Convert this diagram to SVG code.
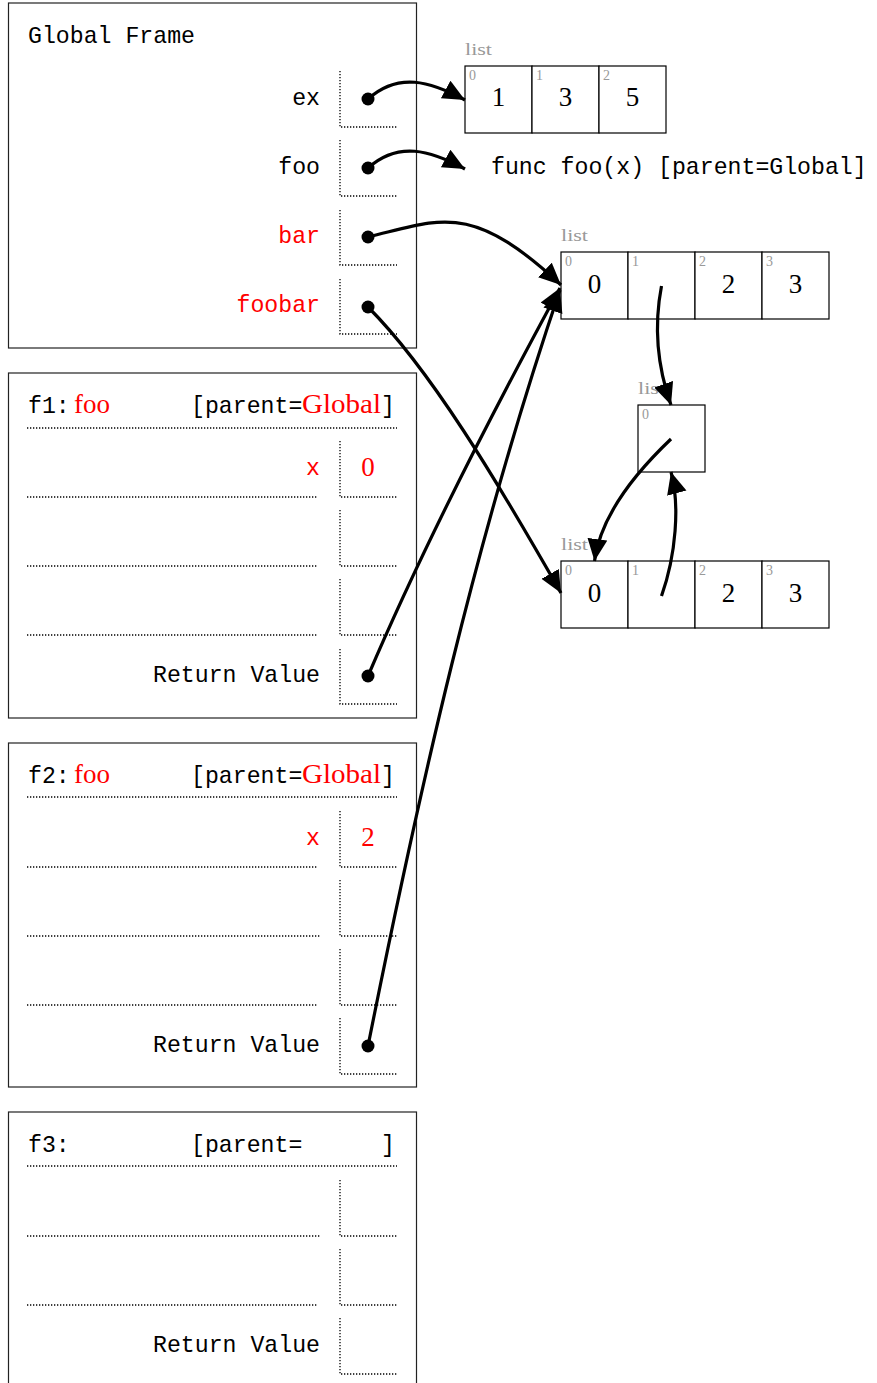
<svg xmlns="http://www.w3.org/2000/svg" width="877" height="1383" viewBox="0 0 877 1383">
  <style>
    .frame { fill: #fff; stroke: #222; stroke-width: 1.2; }
    .dot-line { stroke: #000; stroke-width: 1.3; stroke-dasharray: 1.3 1.7; fill: none; }
    .mono { font-family: "Liberation Mono", "DejaVu Sans Mono", monospace; font-size: 23.2px; fill: #000; }
    .serif { font-family: "Liberation Serif", "DejaVu Serif", serif; font-size: 27px; fill: #000; }
    .red { fill: #ff0000; }
    .end { text-anchor: end; }
    .mid { text-anchor: middle; }
    .cell { fill: #fff; stroke: #000; stroke-width: 1.2; }
    .idx { font-family: "Liberation Serif", "DejaVu Serif", serif; font-size: 14px; fill: #999; }
    .tag { font-family: "Liberation Serif", "DejaVu Serif", serif; font-size: 17px; fill: #999; }
    .ptr { fill: #000; }
    .edge { fill: none; stroke: #000; stroke-width: 3.2; marker-end: url(#head); }
  </style>
  <defs>
    <marker id="head" markerUnits="userSpaceOnUse" markerWidth="24" markerHeight="22" refX="22" refY="10" orient="auto">
      <path d="M0,0 L22,10 L0,20 z" fill="#000"/>
    </marker>
  </defs>

  <!-- Global frame -->
  <g id="global-frame">
    <rect class="frame" x="8.5" y="3" width="408" height="345"/>
    <text class="mono" x="28" y="43">Global Frame</text>
    <path class="dot-line" d="M340,71 V127 H397 M340,140 V196 H397 M340,210 V265 H397 M340,279 V334 H397"/>
    <text class="mono end" x="320" y="105">ex</text>
    <text class="mono end" x="320" y="174">foo</text>
    <text class="mono end red" x="320" y="243">bar</text>
    <text class="mono end red" x="320" y="312">foobar</text>
    <circle class="ptr" cx="368" cy="99" r="6.5"/>
    <circle class="ptr" cx="368" cy="168" r="6.5"/>
    <circle class="ptr" cx="368" cy="237" r="6.5"/>
    <circle class="ptr" cx="368" cy="307" r="6.5"/>
  </g>

  <!-- Frame f1 -->
  <g id="frame-f1">
    <rect class="frame" x="8.5" y="373" width="408" height="345"/>
    <text class="mono" x="28" y="413">f1:</text>
    <text class="serif red" x="74" y="413">foo</text>
    <text class="mono" x="191" y="413">[parent=</text>
    <text class="serif red" x="302" y="413" textLength="79" lengthAdjust="spacingAndGlyphs">Global</text>
    <text class="mono" x="381" y="413">]</text>
    <path class="dot-line" d="M27,428 H397 M27,497 H318 M27,566 H318 M27,635 H318"/>
    <path class="dot-line" d="M340,441 V497 H397 M340,510 V566 H397 M340,579 V635 H397 M340,649 V704 H397"/>
    <text class="mono end red" x="320" y="475">x</text>
    <text class="serif mid red" x="368" y="476">0</text>
    <text class="mono end" x="320" y="682">Return Value</text>
    <circle class="ptr" cx="368" cy="676" r="6.5"/>
  </g>

  <!-- Frame f2 -->
  <g id="frame-f2">
    <rect class="frame" x="8.5" y="743" width="408" height="344"/>
    <text class="mono" x="28" y="783">f2:</text>
    <text class="serif red" x="74" y="783">foo</text>
    <text class="mono" x="191" y="783">[parent=</text>
    <text class="serif red" x="302" y="783" textLength="79" lengthAdjust="spacingAndGlyphs">Global</text>
    <text class="mono" x="381" y="783">]</text>
    <path class="dot-line" d="M27,797 H397 M27,867 H318 M27,936 H320 M27,1005 H318"/>
    <path class="dot-line" d="M340,811 V867 H397 M340,880 V936 H397 M340,949 V1005 H397 M340,1018 V1074 H397"/>
    <text class="mono end red" x="320" y="845">x</text>
    <text class="serif mid red" x="368" y="846">2</text>
    <text class="mono end" x="320" y="1052">Return Value</text>
    <circle class="ptr" cx="368" cy="1046" r="6.5"/>
  </g>

  <!-- Frame f3 -->
  <g id="frame-f3">
    <rect class="frame" x="8.5" y="1112" width="408" height="320"/>
    <text class="mono" x="28" y="1152">f3:</text>
    <text class="mono" x="191" y="1152">[parent=</text>
    <text class="mono" x="381" y="1152">]</text>
    <path class="dot-line" d="M27,1166 H397 M27,1236 H321 M27,1305 H318"/>
    <path class="dot-line" d="M340,1180 V1236 H397 M340,1249 V1305 H397 M340,1318 V1374 H397"/>
    <text class="mono end" x="320" y="1352">Return Value</text>
  </g>

  <!-- List [1, 3, 5] -->
  <g id="list-ex">
    <text class="tag" x="465" y="55" textLength="27" lengthAdjust="spacingAndGlyphs">list</text>
    <rect class="cell" x="465" y="66" width="67" height="67"/>
    <rect class="cell" x="532" y="66" width="67" height="67"/>
    <rect class="cell" x="599" y="66" width="67" height="67"/>
    <text class="idx" x="469" y="80">0</text>
    <text class="idx" x="536" y="80">1</text>
    <text class="idx" x="603" y="80">2</text>
    <text class="serif mid" x="498.5" y="106">1</text>
    <text class="serif mid" x="565.5" y="106">3</text>
    <text class="serif mid" x="632.5" y="106">5</text>
  </g>

  <!-- Function object -->
  <g id="func-foo">
    <text class="mono" x="491" y="174">func foo(x) [parent=Global]</text>
  </g>

  <!-- List bound to bar -->
  <g id="list-bar">
    <text class="tag" x="561" y="241" textLength="27" lengthAdjust="spacingAndGlyphs">list</text>
    <rect class="cell" x="561" y="252" width="67" height="67"/>
    <rect class="cell" x="628" y="252" width="67" height="67"/>
    <rect class="cell" x="695" y="252" width="67" height="67"/>
    <rect class="cell" x="762" y="252" width="67" height="67"/>
    <text class="idx" x="565" y="266">0</text>
    <text class="idx" x="632" y="266">1</text>
    <text class="idx" x="699" y="266">2</text>
    <text class="idx" x="766" y="266">3</text>
    <text class="serif mid" x="594.5" y="293">0</text>
    <text class="serif mid" x="728.5" y="293">2</text>
    <text class="serif mid" x="795.5" y="293">3</text>
  </g>

  <!-- Single-element list -->
  <g id="list-inner">
    <text class="tag" x="638" y="394" textLength="27" lengthAdjust="spacingAndGlyphs">list</text>
    <rect class="cell" x="638" y="405" width="67" height="67"/>
    <text class="idx" x="642" y="419">0</text>
  </g>

  <!-- List bound to foobar -->
  <g id="list-foobar">
    <text class="tag" x="561" y="550" textLength="27" lengthAdjust="spacingAndGlyphs">list</text>
    <rect class="cell" x="561" y="561" width="67" height="67"/>
    <rect class="cell" x="628" y="561" width="67" height="67"/>
    <rect class="cell" x="695" y="561" width="67" height="67"/>
    <rect class="cell" x="762" y="561" width="67" height="67"/>
    <text class="idx" x="565" y="575">0</text>
    <text class="idx" x="632" y="575">1</text>
    <text class="idx" x="699" y="575">2</text>
    <text class="idx" x="766" y="575">3</text>
    <text class="serif mid" x="594.5" y="602">0</text>
    <text class="serif mid" x="728.5" y="602">2</text>
    <text class="serif mid" x="795.5" y="602">3</text>
  </g>

  <!-- References -->
  <g id="connectors">
    <path class="edge" d="M368,99 C398,72 430,81 465,100"/>
    <path class="edge" d="M368,168 C398,141 430,150 465,169"/>
    <path class="edge" d="M368,237 C440,220 470,200 561,285"/>
    <path class="edge" d="M368,307 C430,369 496,479 561,593"/>
    <path class="edge" d="M368,676 C423,547 492,413 560,288"/>
    <path class="edge" d="M368,1046 C419,791 476,537 560,290"/>
    <path class="edge" d="M661.5,286 C655,320 655,360 671,405"/>
    <path class="edge" d="M671,439 C630,478 600,520 594.5,561"/>
    <path class="edge" d="M661.5,596 C676,555 680,505 671,472"/>
  </g>
</svg>
